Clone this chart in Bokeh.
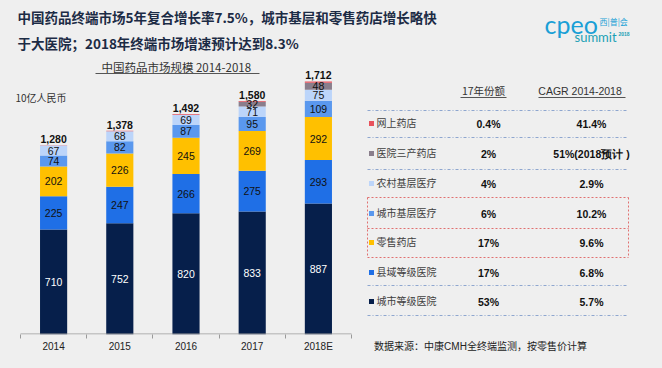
from bokeh.plotting import figure
from bokeh.models import Range1d, LinearAxis, FixedTicker, ColumnDataSource
from bokeh.core.properties import value
from bokeh.embed import file_html
from bokeh.resources import INLINE
import numpy as np

# ---------------- data ----------------
years = ["2014", "2015", "2016", "2017", "2018E"]
totals = [1280, 1378, 1492, 1580, 1712]
city_hosp = [710, 752, 820, 833, 887]
county_hosp = [225, 247, 266, 275, 293]
retail = [202, 226, 245, 269, 292]
city_primary = [74, 82, 87, 95, 109]
rural_primary = [67, 68, 69, 71, 75]
hosp_pharmacy = [0, 0, 0, 32, 48]
online = [2, 3, 5, 5, 8]

segment_names = ["城市等级医院", "县域等级医院", "零售药店", "城市基层医疗",
                 "农村基层医疗", "医院三产药店", "网上药店"]
share_2017 = ["53%", "17%", "17%", "6%", "4%", "2%", "0.4%"]
cagr_2014_2018 = ["5.7%", "6.8%", "9.6%", "10.2%", "2.9%", "51%(2018预计 )", "41.4%"]

title_lines = ["中国药品终端市场5年复合增长率7.5%，城市基层和零售药店增长略快",
               "于大医院；2018年终端市场增速预计达到8.3%"]
subtitle = "中国药品市场规模  2014-2018"
unit_label = "10亿人民币"
header_share = "17年份额"
header_cagr = "CAGR  2014-2018"
source_note = "数据来源：中康CMH全终端监测，按零售价计算"

# ---------------- style ----------------
series = [city_hosp, county_hosp, retail, city_primary, rural_primary, hosp_pharmacy, online]
colors = ["#061f4b", "#1f6fe6", "#ffc000", "#5a98ee", "#bcd5fa", "#8a7e8c", "#e8525c"]
label_colors = ["#ffffff", "#111111", "#111111", "#111111", "#111111", "#111111", None]
BG = "#efefef"
CJK = "Noto Sans CJK SC"
LAT = "Liberation Sans"

W = 646
X0, CW = 12.0, 66.2        # frame px where categories start, px per category
BASE, PXU = 326.0, 0.1478  # frame height (baseline), px per unit

def dx(ix):  # image px -> data x
    return (ix - 8 - X0) / CW

def dy(iy):  # image px -> data y
    return (BASE - (iy - 8)) / PXU

p = figure(frame_width=W, frame_height=int(BASE), output_backend="svg", toolbar_location=None,
           x_range=Range1d(-X0 / CW, (W - X0) / CW), y_range=Range1d(0, BASE / PXU),
           x_axis_location=None, y_axis_location=None,
           min_border_left=0, min_border_right=0, min_border_top=0, min_border_bottom=0,
           background_fill_color=None, border_fill_color=None, outline_line_color=None)
p.grid.visible = False

xs = [i + 0.5 for i in range(len(years))]
keys = ["s%d" % i for i in range(len(series))]
src = ColumnDataSource(dict(x=xs, **{k: s for k, s in zip(keys, series)}))
p.vbar_stack(keys, x="x", width=0.41, color=colors, line_color=None, source=src)

# segment labels
lx, ly, lt, lc = [], [], [], []
cum = np.zeros(len(years))
for s, c in zip(series, label_colors):
    arr = np.array(s, dtype=float)
    for i, v in enumerate(arr):
        if c is not None and v > 0:
            lx.append(xs[i]); ly.append(cum[i] + v / 2); lt.append(str(int(v))); lc.append(c)
    cum += arr
p.text(x=lx, y=ly, text=lt, text_color=lc, text_align="center", text_baseline="middle",
       text_font=value(LAT), text_font_size="10.5px")

# totals
p.text(x=xs, y=totals, text=["{:,}".format(t) for t in totals], text_align="center",
       text_baseline="bottom", y_offset=-2, text_font=value(LAT), text_font_style="bold",
       text_font_size="10.5px", text_color="#111111")

# axis baseline (drawn inside the frame so the axis itself can stay unbounded)
p.segment(x0=[0], y0=[0.5 / PXU], x1=[len(years)], y1=[0.5 / PXU], line_color="#9a9a9a", line_width=1)

# x axis: year labels at bar centres, boundary ticks, and the source note as an extra label
note_x = dx(376 + 104)
ax = LinearAxis(ticker=FixedTicker(ticks=xs + [note_x], minor_ticks=list(range(len(years) + 1))),
                major_label_overrides={**{x: y for x, y in zip(xs, years)}, note_x: source_note})
ax.axis_line_color = None
ax.major_tick_line_color = None
ax.major_tick_out = 0
ax.major_tick_in = 0
ax.minor_tick_line_color = "#9a9a9a"
ax.minor_tick_out = 4
ax.minor_tick_in = 0
ax.major_label_standoff = 2
ax.major_label_text_font = "Liberation Sans, Noto Sans CJK SC"
ax.major_label_text_font_size = "10px"
ax.major_label_text_color = "#222222"
p.add_layout(ax, "below")

def lab(ix, iy, text, size, color="#222222", font=CJK, style="normal", align="left"):
    p.text(x=[dx(ix)], y=[dy(iy)], text=[text], text_font=value(font), text_font_size=size,
           text_color=color, text_font_style=style, text_align=align, text_baseline="middle")

# title
lab(17, 16, title_lines[0], "13.5px", "#1c2b45", style="bold")
lab(17, 42, title_lines[1], "13.5px", "#1c2b45", style="bold")

# logo
lab(544, 23, "cpeo", "25px", "#1a9fd6", font="Lato")
lab(599, 21, "西|普|会", "8px", "#1a9fd6")
lab(574, 36, "summit", "13px", "#1a9fb5", font="Lato")
lab(618, 33, "2018", "5px", "#1a9fb5", font=LAT, style="bold")

# subtitle + unit
lab(177, 66, subtitle, "11.5px", "#333333", align="center")
p.segment(x0=[dx(95)], y0=[dy(73)], x1=[dx(259)], y1=[dy(73)], line_color="#555555", line_width=1)
lab(15, 97, unit_label, "10px", "#333333")

# table headers
lab(483, 90, header_share, "10.5px", "#333333", align="center")
lab(581, 90, header_cagr, "10.5px", "#333333", font=LAT, align="center")
p.segment(x0=[dx(460), dx(538)], y0=[dy(97), dy(97)], x1=[dx(506), dx(625)], y1=[dy(97), dy(97)],
          line_color="#555555", line_width=1)

# table rows (top to bottom: reversed series order)
row_y = [123, 153, 183, 213, 242, 272, 301]
order = list(range(len(segment_names)))[::-1]
mx, my, mc = [], [], []
for k, idx in enumerate(order):
    y = row_y[k]
    mx.append(dx(371)); my.append(dy(y)); mc.append(colors[idx])
    lab(376, y - 1, segment_names[idx], "10px", "#404040")
    lab(488, y, share_2017[idx], "10.5px", "#111111", font=LAT, style="bold", align="center")
    lab(591, y, cagr_2014_2018[idx], "10.5px", "#111111", font=LAT, style="bold", align="center")
p.scatter(x=mx, y=my, marker="square", size=5, color=mc, line_color=None)

# dotted separators
sep_y = [110, 137, 169, 285, 315]
p.segment(x0=[dx(367)] * len(sep_y), y0=[dy(v) for v in sep_y],
          x1=[dx(628)] * len(sep_y), y1=[dy(v) for v in sep_y],
          line_color="#8ea6cf", line_width=1, line_dash="3 2 1 2")

# red dashed highlight box
bx0, bx1, by0, bym, by1 = dx(367), dx(628), dy(197), dy(228), dy(257)
p.segment(x0=[bx0, bx0, bx0, bx0, bx1], y0=[by0, bym, by1, by0, by0],
          x1=[bx1, bx1, bx1, bx0, bx1], y1=[by0, bym, by1, by1, by1],
          line_color="#e07070", line_width=1, line_dash="2 2")

html = file_html(p, INLINE)
html = html.replace("</head>",
                    "<style>html{margin:0;padding:0;background:#efefef;}"
                    "body{margin:8px;background:#efefef;overflow:hidden;}</style></head>", 1)
open("out.html", "w").write(html)
